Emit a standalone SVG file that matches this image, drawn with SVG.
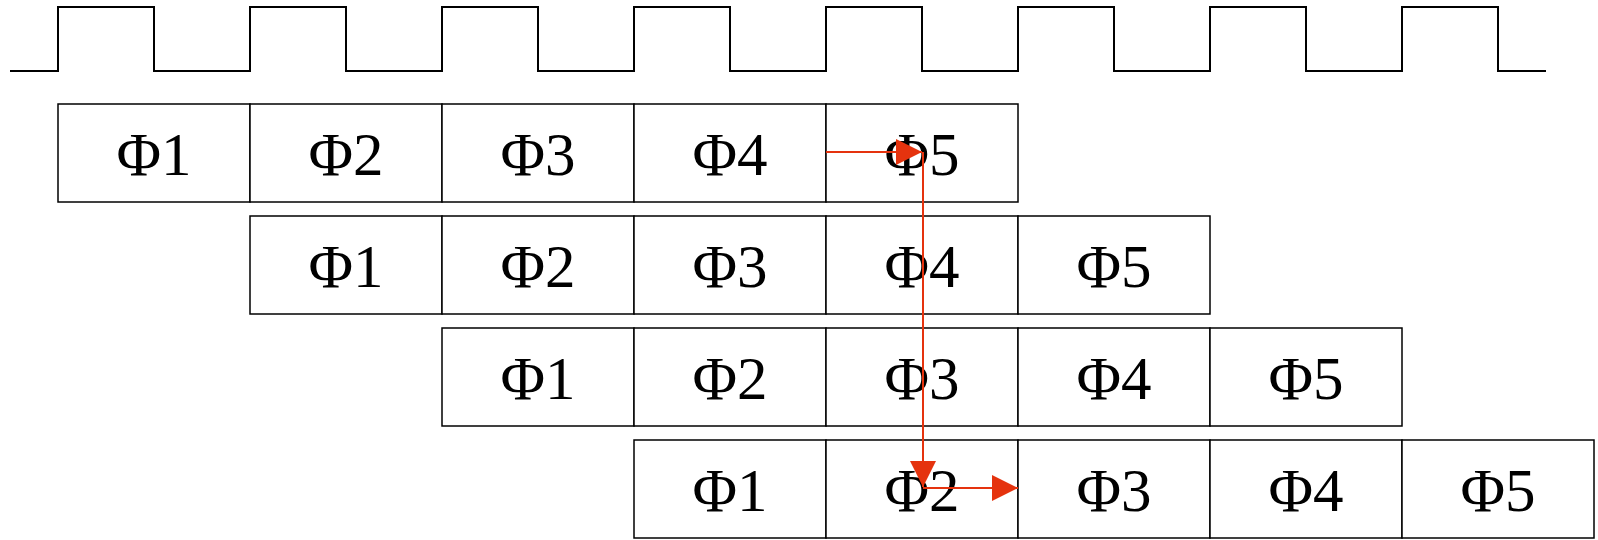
<svg xmlns="http://www.w3.org/2000/svg" width="1598" height="540" viewBox="0 0 1598 540">
  <style>
    .clk { fill: none; stroke: #000; stroke-width: 2; }
    .cell { fill: #fff; stroke: #000; stroke-width: 1.5; }
    .lbl { font-family: "Liberation Serif", "Times New Roman", serif; font-size: 61px; fill: #000; text-anchor: middle; }
    .flow { fill: none; stroke: #E5330E; stroke-width: 2; }
  </style>
  <defs>
    <marker id="tri" markerUnits="userSpaceOnUse" markerWidth="26" markerHeight="26" refX="26" refY="13" orient="auto">
      <path d="M0,0 L26,13 L0,26 Z" fill="#E5330E"/>
    </marker>
  </defs>

  <!-- clock waveform -->
  <g id="clock">
    <path class="clk" d="M10,71 H58 V7 H154 V71 H250 V7 H346 V71 H442 V7 H538 V71 H634 V7 H730 V71 H826 V7 H922 V71 H1018 V7 H1114 V71 H1210 V7 H1306 V71 H1402 V7 H1498 V71 H1546"/>
  </g>

  <!-- pipeline row 1 -->
  <g id="row1">
    <rect class="cell" x="58" y="104" width="192" height="98"/>
    <rect class="cell" x="250" y="104" width="192" height="98"/>
    <rect class="cell" x="442" y="104" width="192" height="98"/>
    <rect class="cell" x="634" y="104" width="192" height="98"/>
    <rect class="cell" x="826" y="104" width="192" height="98"/>
    <text class="lbl" x="154" y="175">Φ1</text>
    <text class="lbl" x="346" y="175">Φ2</text>
    <text class="lbl" x="538" y="175">Φ3</text>
    <text class="lbl" x="730" y="175">Φ4</text>
    <text class="lbl" x="922" y="175">Φ5</text>
  </g>

  <!-- pipeline row 2 -->
  <g id="row2">
    <rect class="cell" x="250" y="216" width="192" height="98"/>
    <rect class="cell" x="442" y="216" width="192" height="98"/>
    <rect class="cell" x="634" y="216" width="192" height="98"/>
    <rect class="cell" x="826" y="216" width="192" height="98"/>
    <rect class="cell" x="1018" y="216" width="192" height="98"/>
    <text class="lbl" x="346" y="287">Φ1</text>
    <text class="lbl" x="538" y="287">Φ2</text>
    <text class="lbl" x="730" y="287">Φ3</text>
    <text class="lbl" x="922" y="287">Φ4</text>
    <text class="lbl" x="1114" y="287">Φ5</text>
  </g>

  <!-- pipeline row 3 -->
  <g id="row3">
    <rect class="cell" x="442" y="328" width="192" height="98"/>
    <rect class="cell" x="634" y="328" width="192" height="98"/>
    <rect class="cell" x="826" y="328" width="192" height="98"/>
    <rect class="cell" x="1018" y="328" width="192" height="98"/>
    <rect class="cell" x="1210" y="328" width="192" height="98"/>
    <text class="lbl" x="538" y="399">Φ1</text>
    <text class="lbl" x="730" y="399">Φ2</text>
    <text class="lbl" x="922" y="399">Φ3</text>
    <text class="lbl" x="1114" y="399">Φ4</text>
    <text class="lbl" x="1306" y="399">Φ5</text>
  </g>

  <!-- pipeline row 4 -->
  <g id="row4">
    <rect class="cell" x="634" y="440" width="192" height="98"/>
    <rect class="cell" x="826" y="440" width="192" height="98"/>
    <rect class="cell" x="1018" y="440" width="192" height="98"/>
    <rect class="cell" x="1210" y="440" width="192" height="98"/>
    <rect class="cell" x="1402" y="440" width="192" height="98"/>
    <text class="lbl" x="730" y="511">Φ1</text>
    <text class="lbl" x="922" y="511">Φ2</text>
    <text class="lbl" x="1114" y="511">Φ3</text>
    <text class="lbl" x="1306" y="511">Φ4</text>
    <text class="lbl" x="1498" y="511">Φ5</text>
  </g>

  <!-- forwarding path -->
  <g id="connectors">
    <line class="flow" x1="826" y1="152" x2="922" y2="152" marker-end="url(#tri)"/>
    <line class="flow" x1="923" y1="152" x2="923" y2="487" marker-end="url(#tri)"/>
    <line class="flow" x1="923" y1="488" x2="1018" y2="488" marker-end="url(#tri)"/>
  </g>
</svg>
